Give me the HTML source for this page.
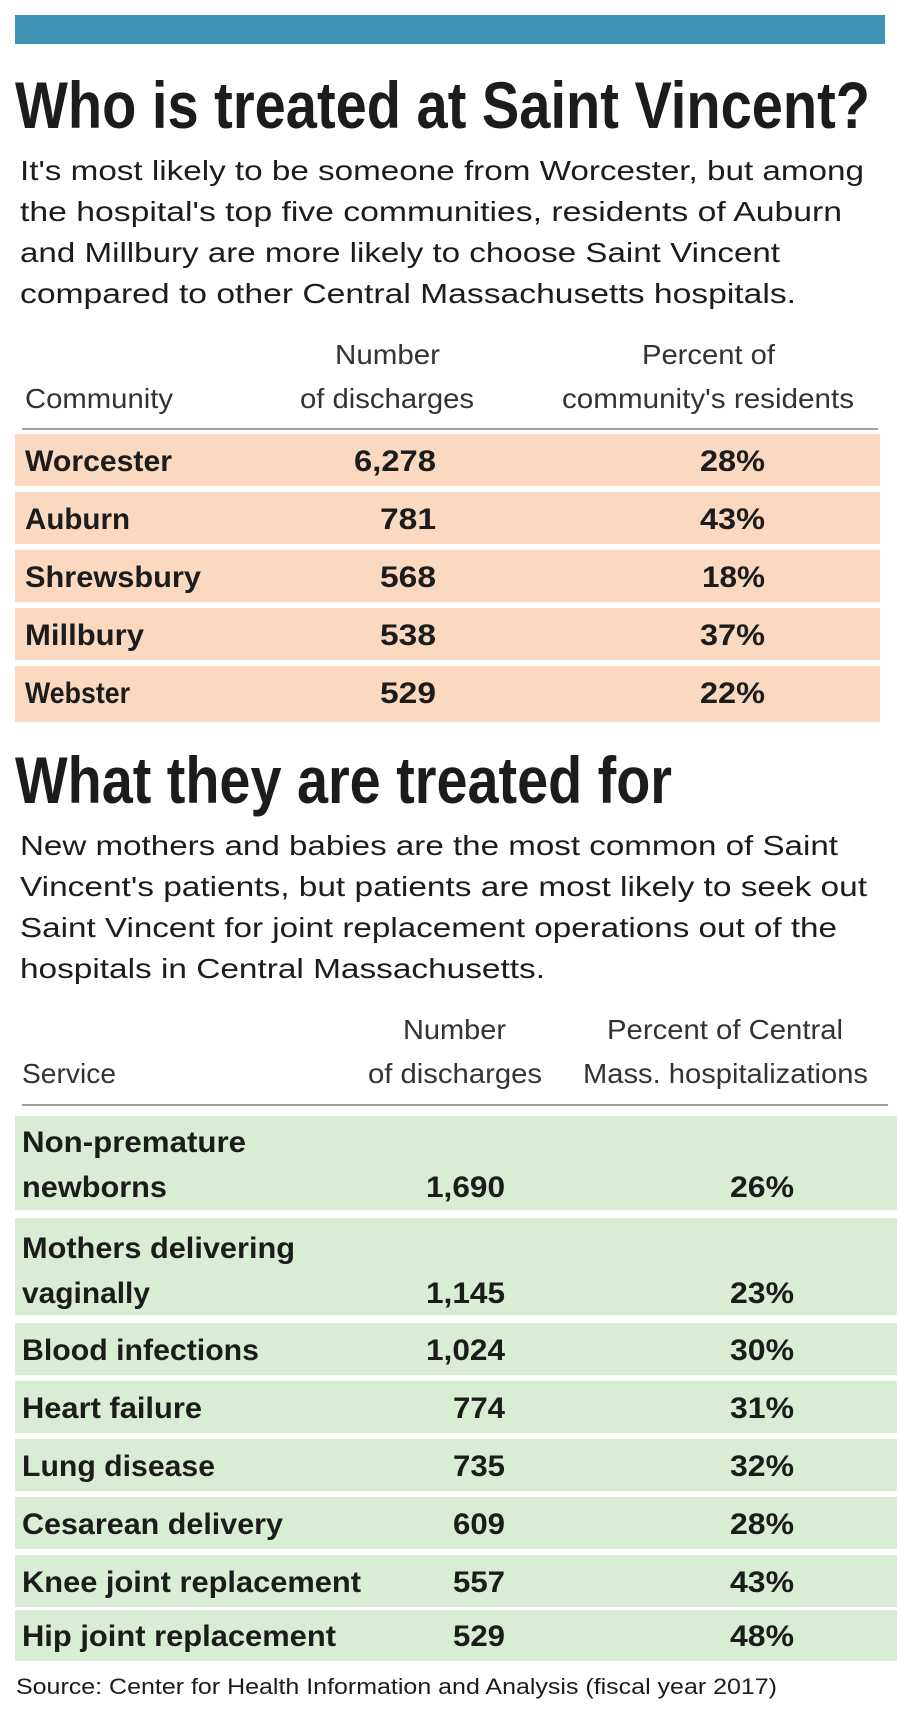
<!DOCTYPE html>
<html><head><meta charset="utf-8"><style>
html,body{margin:0;padding:0;background:#fff;width:900px;height:1716px;overflow:hidden}
svg{display:block}
text{font-family:"Liberation Sans",sans-serif;fill:#1c1c1c}
.t{font-weight:bold;font-size:66px}
.p{font-size:28px}
.h{font-size:28px;fill:#333}
.b{font-weight:bold;font-size:30px}
.s{font-size:22px}
</style></head><body>
<svg width="900" height="1716" viewBox="0 0 900 1716" xmlns="http://www.w3.org/2000/svg">
<rect x="15" y="15" width="870" height="29" fill="#3f94b6"/>
<text class="t" x="15" y="128" textLength="855" lengthAdjust="spacingAndGlyphs">Who is treated at Saint Vincent?</text>
<text class="p" x="20" y="180" textLength="844" lengthAdjust="spacingAndGlyphs">It's most likely to be someone from Worcester, but among</text>
<text class="p" x="20" y="221" textLength="822" lengthAdjust="spacingAndGlyphs">the hospital's top five communities, residents of Auburn</text>
<text class="p" x="20" y="262" textLength="760" lengthAdjust="spacingAndGlyphs">and Millbury are more likely to choose Saint Vincent</text>
<text class="p" x="20" y="303" textLength="776" lengthAdjust="spacingAndGlyphs">compared to other Central Massachusetts hospitals.</text>
<text class="h" x="335" y="364" textLength="105" lengthAdjust="spacingAndGlyphs">Number</text>
<text class="h" x="642" y="364" textLength="133" lengthAdjust="spacingAndGlyphs">Percent of</text>
<text class="h" x="25" y="408" textLength="148" lengthAdjust="spacingAndGlyphs">Community</text>
<text class="h" x="300" y="408" textLength="174" lengthAdjust="spacingAndGlyphs">of discharges</text>
<text class="h" x="562" y="408" textLength="292" lengthAdjust="spacingAndGlyphs">community's residents</text>
<rect x="22" y="428" width="856" height="2" fill="#a0a0a0"/>
<g fill="#fbd8c0">
<rect x="15" y="434" width="865" height="52"/>
<rect x="15" y="492" width="865" height="52"/>
<rect x="15" y="550" width="865" height="52"/>
<rect x="15" y="608" width="865" height="52"/>
<rect x="15" y="666" width="865" height="56"/>
</g>
<text class="b" x="25" y="471" textLength="147" lengthAdjust="spacingAndGlyphs">Worcester</text>
<text class="b" x="354" y="471" textLength="82" lengthAdjust="spacingAndGlyphs">6,278</text>
<text class="b" x="700" y="471" textLength="65" lengthAdjust="spacingAndGlyphs">28%</text>
<text class="b" x="25" y="529" textLength="105" lengthAdjust="spacingAndGlyphs">Auburn</text>
<text class="b" x="380" y="529" textLength="56" lengthAdjust="spacingAndGlyphs">781</text>
<text class="b" x="700" y="529" textLength="65" lengthAdjust="spacingAndGlyphs">43%</text>
<text class="b" x="25" y="587" textLength="176" lengthAdjust="spacingAndGlyphs">Shrewsbury</text>
<text class="b" x="380" y="587" textLength="56" lengthAdjust="spacingAndGlyphs">568</text>
<text class="b" x="702" y="587" textLength="63" lengthAdjust="spacingAndGlyphs">18%</text>
<text class="b" x="25" y="645" textLength="119" lengthAdjust="spacingAndGlyphs">Millbury</text>
<text class="b" x="380" y="645" textLength="56" lengthAdjust="spacingAndGlyphs">538</text>
<text class="b" x="700" y="645" textLength="65" lengthAdjust="spacingAndGlyphs">37%</text>
<text class="b" x="25" y="703" textLength="105" lengthAdjust="spacingAndGlyphs">Webster</text>
<text class="b" x="380" y="703" textLength="56" lengthAdjust="spacingAndGlyphs">529</text>
<text class="b" x="700" y="703" textLength="65" lengthAdjust="spacingAndGlyphs">22%</text>

<text class="t" x="15" y="803" textLength="657" lengthAdjust="spacingAndGlyphs">What they are treated for</text>
<text class="p" x="20" y="855" textLength="818" lengthAdjust="spacingAndGlyphs">New mothers and babies are the most common of Saint</text>
<text class="p" x="20" y="896" textLength="847" lengthAdjust="spacingAndGlyphs">Vincent's patients, but patients are most likely to seek out</text>
<text class="p" x="20" y="937" textLength="817" lengthAdjust="spacingAndGlyphs">Saint Vincent for joint replacement operations out of the</text>
<text class="p" x="20" y="978" textLength="525" lengthAdjust="spacingAndGlyphs">hospitals in  Central Massachusetts.</text>

<text class="h" x="403" y="1039" textLength="103" lengthAdjust="spacingAndGlyphs">Number</text>
<text class="h" x="607" y="1039" textLength="236" lengthAdjust="spacingAndGlyphs">Percent of Central</text>
<text class="h" x="22" y="1083" textLength="94" lengthAdjust="spacingAndGlyphs">Service</text>
<text class="h" x="368" y="1083" textLength="174" lengthAdjust="spacingAndGlyphs">of discharges</text>
<text class="h" x="583" y="1083" textLength="285" lengthAdjust="spacingAndGlyphs">Mass. hospitalizations</text>
<rect x="22" y="1104" width="866" height="2" fill="#a0a0a0"/>
<g fill="#d9ecd4">
<rect x="15" y="1116" width="882" height="94"/>
<rect x="15" y="1218" width="882" height="97"/>
<rect x="15" y="1323" width="882" height="52"/>
<rect x="15" y="1381" width="882" height="52"/>
<rect x="15" y="1439" width="882" height="52"/>
<rect x="15" y="1497" width="882" height="52"/>
<rect x="15" y="1555" width="882" height="52"/>
<rect x="15" y="1610" width="882" height="51"/>
</g>
<text class="b" x="22" y="1152" textLength="224" lengthAdjust="spacingAndGlyphs">Non-premature</text>
<text class="b" x="22" y="1197" textLength="145" lengthAdjust="spacingAndGlyphs">newborns</text>
<text class="b" x="426" y="1197" textLength="79" lengthAdjust="spacingAndGlyphs">1,690</text>
<text class="b" x="730" y="1197" textLength="64" lengthAdjust="spacingAndGlyphs">26%</text>
<text class="b" x="22" y="1258" textLength="273" lengthAdjust="spacingAndGlyphs">Mothers delivering</text>
<text class="b" x="22" y="1303" textLength="128" lengthAdjust="spacingAndGlyphs">vaginally</text>
<text class="b" x="426" y="1303" textLength="79" lengthAdjust="spacingAndGlyphs">1,145</text>
<text class="b" x="730" y="1303" textLength="64" lengthAdjust="spacingAndGlyphs">23%</text>
<text class="b" x="22" y="1360" textLength="237" lengthAdjust="spacingAndGlyphs">Blood infections</text>
<text class="b" x="426" y="1360" textLength="79" lengthAdjust="spacingAndGlyphs">1,024</text>
<text class="b" x="730" y="1360" textLength="64" lengthAdjust="spacingAndGlyphs">30%</text>
<text class="b" x="22" y="1418" textLength="180" lengthAdjust="spacingAndGlyphs">Heart failure</text>
<text class="b" x="453" y="1418" textLength="52" lengthAdjust="spacingAndGlyphs">774</text>
<text class="b" x="730" y="1418" textLength="64" lengthAdjust="spacingAndGlyphs">31%</text>
<text class="b" x="22" y="1476" textLength="193" lengthAdjust="spacingAndGlyphs">Lung disease</text>
<text class="b" x="453" y="1476" textLength="52" lengthAdjust="spacingAndGlyphs">735</text>
<text class="b" x="730" y="1476" textLength="64" lengthAdjust="spacingAndGlyphs">32%</text>
<text class="b" x="22" y="1534" textLength="261" lengthAdjust="spacingAndGlyphs">Cesarean delivery</text>
<text class="b" x="453" y="1534" textLength="52" lengthAdjust="spacingAndGlyphs">609</text>
<text class="b" x="730" y="1534" textLength="64" lengthAdjust="spacingAndGlyphs">28%</text>
<text class="b" x="22" y="1592" textLength="339" lengthAdjust="spacingAndGlyphs">Knee joint replacement</text>
<text class="b" x="453" y="1592" textLength="52" lengthAdjust="spacingAndGlyphs">557</text>
<text class="b" x="730" y="1592" textLength="64" lengthAdjust="spacingAndGlyphs">43%</text>
<text class="b" x="22" y="1646" textLength="314" lengthAdjust="spacingAndGlyphs">Hip joint replacement</text>
<text class="b" x="453" y="1646" textLength="52" lengthAdjust="spacingAndGlyphs">529</text>
<text class="b" x="730" y="1646" textLength="64" lengthAdjust="spacingAndGlyphs">48%</text>
<text class="s" x="16" y="1694" textLength="761" lengthAdjust="spacingAndGlyphs">Source: Center for Health Information and Analysis (fiscal year 2017)</text>
</svg>
</body></html>
